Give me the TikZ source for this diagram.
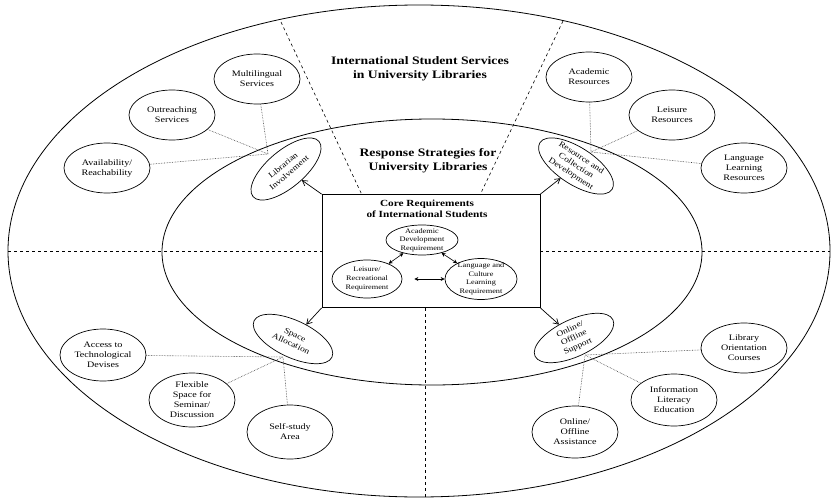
\documentclass[tikz,border=0pt]{standalone}
\usepackage{fontspec}
\setmainfont{Liberation Serif}[FakeStretch=1.2]
\usepackage{tikz}
\usetikzlibrary{shapes.geometric}
\usetikzlibrary{arrows.meta}

\begin{document}
\begin{tikzpicture}[x=1pt,y=-1pt,
  sat/.style={ellipse,draw,line width=0.7pt,minimum width=86pt,minimum height=50pt,
    inner xsep=0pt,inner ysep=-6pt,align=center,font=\fontsize{8.4}{10}\selectfont},
  strat/.style={ellipse,draw,line width=0.7pt,minimum width=86pt,minimum height=37pt,
    inner xsep=0pt,inner ysep=-6pt,align=center,font=\fontsize{8}{9.5}\selectfont},
  req/.style={ellipse,draw,line width=0.7pt,inner xsep=0pt,inner ysep=-6pt,
    align=center,font=\fontsize{6.9}{8.6}\selectfont},
  heading/.style={align=center,font=\bfseries\fontsize{11.4}{14}\selectfont},
  link/.style={densely dotted,line width=0.6pt,black!75},
  zone/.style={dashed,line width=0.6pt}]
  \useasboundingbox (0,0) rectangle (837,500);

  % the two rings
  \draw[line width=0.8pt] (419,251) ellipse [x radius=411pt,y radius=246pt];
  \draw[line width=0.8pt] (432,252) ellipse [x radius=270pt,y radius=133pt];

  \node (core) [draw,line width=0.8pt,minimum width=218pt,minimum height=113pt] at (431,251) {};

  % quadrant borders
  \draw[zone] (8,251) -- (core.west);
  \draw[zone] (core.east) -- (830,251);
  \draw[zone] (425,308) -- (425,497);
  \draw[zone] (281,22) -- (362,195);
  \draw[zone] (563,21) -- (480,195);

  \node (svcTitle) [heading] at (420,69) {International Student Services\\in University Libraries};
  \node (stratTitle) [heading] at (428,161) {Response Strategies for\\University Libraries};
  \node (coreTitle) [heading,font=\bfseries\fontsize{9.4}{10.5}\selectfont] at (427,209)
    {Core Requirements\\of International Students};

  % requirements
  \node (acad) [req,minimum width=72pt,minimum height=30pt] at (422,240) {Academic\\Development\\Requirement};
  \node (leis) [req,minimum width=70pt,minimum height=38pt] at (367,279) {Leisure/\\Recreational\\Requirement};
  \node (lang) [req,minimum width=72pt,minimum height=41pt] at (481,279) {Language and\\Culture\\Learning\\Requirement};

  \path[{Stealth[length=4pt,width=4pt]}-{Stealth[length=4pt,width=4pt]},line width=0.6pt]
    (acad) edge (leis)
    (acad) edge (lang)
    (leis) edge [shorten <=12pt] (lang);

  % strategies
  \node (lib) [strat,rotate=40] at (286,169) {Librarian\\Involvement};
  \node (res) [strat,rotate=-33] at (576,166) {Resource and\\Collection\\Development};
  \node (space) [strat,rotate=-25] at (293,339) {Space\\Allocation};
  \node (online) [strat,rotate=25] at (574,338) {Online/\\Offline\\Support};

  \path[-{Straight Barb[length=5pt,width=6pt]},line width=0.7pt]
    (core.north west) edge (lib)
    (core.north east) edge (res)
    (core.south west) edge (space)
    (core.south east) edge (online);

  \coordinate (libHub) at (268,154);
  \coordinate (resHub) at (591,152);
  \coordinate (spaceHub) at (283,357);
  \coordinate (onlineHub) at (585,355);

  % services
  \node (multi) [sat] at (257,79) {Multilingual\\Services};
  \node (outreach) [sat] at (172,115) {Outreaching\\Services};
  \node (avail) [sat] at (107,168) {Availability/\\Reachability};
  \node (acadRes) [sat] at (589,77) {Academic\\Resources};
  \node (leisRes) [sat] at (672,115) {Leisure\\Resources};
  \node (langRes) [sat] at (744,168) {Language\\Learning\\Resources};
  \node (tech) [sat,minimum height=52pt] at (103,355) {Access to\\Technological\\Devises};
  \node (flex) [sat,minimum height=54pt] at (192,400) {Flexible\\Space for\\Seminar/\\Discussion};
  \node (selfStudy) [sat,minimum height=54pt] at (290,432) {Self-study\\Area};
  \node (orient) [sat] at (744,348) {Library\\Orientation\\Courses};
  \node (infoLit) [sat,minimum height=52pt] at (674,400) {Information\\Literacy\\Education};
  \node (assist) [sat,minimum height=52pt] at (575,432) {Online/\\Offline\\Assistance};

  \draw[link] (multi) -- (libHub);
  \draw[link] (outreach) -- (libHub);
  \draw[link] (avail) -- (libHub);
  \draw[link] (acadRes) -- (resHub);
  \draw[link] (leisRes) -- (resHub);
  \draw[link] (langRes) -- (resHub);
  \draw[link] (tech) -- (spaceHub);
  \draw[link] (flex) -- (spaceHub);
  \draw[link] (selfStudy) -- (spaceHub);
  \draw[link] (orient) -- (onlineHub);
  \draw[link] (infoLit) -- (onlineHub);
  \draw[link] (assist) -- (onlineHub);
\end{tikzpicture}
\end{document}
